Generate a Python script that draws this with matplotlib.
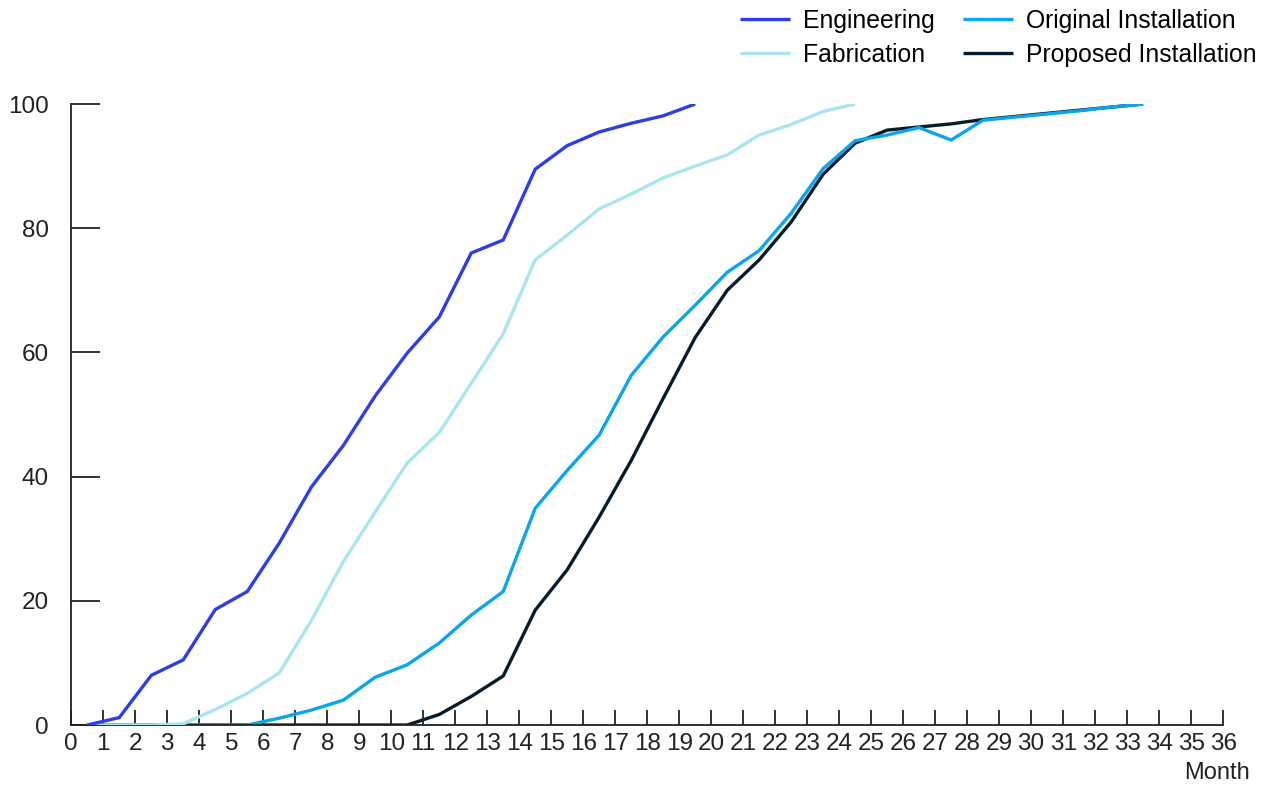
import matplotlib
matplotlib.use('Agg')
import matplotlib.pyplot as plt
import numpy as np

# month mid-points (data sits between the integer ticks)
MONTHS = [m + 0.5 for m in range(34)]

engineering = [0, 1.2, 8.0, 10.5, 18.6, 21.5, 29.3, 38.3, 45.0, 53.0, 59.9, 65.7,
               76.0, 78.1, 89.5, 93.3, 95.5, 96.9, 98.1, 100]
fabrication = [0, 0, 0, 0.2, 2.5, 5.1, 8.4, 16.8, 26.3, 34.3, 42.2, 47.1,
               55.0, 63.0, 74.9, 78.9, 83.1, 85.5, 88.1, 90.0, 91.8, 95.0,
               96.7, 98.8, 100]
original_install = [0, 0, 0, 0, 0, 0, 1.1, 2.4, 4.0, 7.7, 9.7, 13.2,
                    17.7, 21.5, 34.9, 41.0, 46.7, 56.3, 62.5, 67.6, 72.9, 76.4,
                    82.4, 89.6, 94.1, 95.0, 96.2, 94.2, 97.4, 97.9, 98.4, 98.9,
                    99.5, 100]
proposed_install = [0, 0, 0, 0, 0, 0, 0, 0, 0, 0, 0, 1.7,
                    4.6, 7.9, 18.5, 25.0, 33.5, 42.6, 52.6, 62.4, 70.0, 74.9,
                    81.0, 88.7, 93.7, 95.8, 96.3, 96.8, 97.5, 98.0, 98.5, 99.0,
                    99.5, 100]

SERIES = [
    ('Engineering', engineering, '#2b3fe4', 4),
    ('Fabrication', fabrication, '#a8e5ef', 3),
    ('Original Installation', original_install, '#0aa5ee', 2),
    ('Proposed Installation', proposed_install, '#061c2c', 1),
]

X_TICKS = list(range(37))
Y_TICKS = [0, 20, 40, 60, 80, 100]

plt.rcParams['font.family'] = ['Liberation Sans', 'DejaVu Sans']

fig = plt.figure(figsize=(12.71, 7.85), dpi=100)
ax = fig.add_axes([0.0561, 0.0764, 0.9062, 0.7911])

for name, vals, color, z in SERIES:
    ax.plot(MONTHS[:len(vals)], vals, color=color, linewidth=2.4,
            label=name, zorder=z, solid_capstyle='butt')

ax.set_xlim(0, 36)
ax.set_ylim(0, 100)
ax.set_xticks(X_TICKS)
ax.set_yticks(Y_TICKS)

for side in ('top', 'right'):
    ax.spines[side].set_visible(False)
for side in ('left', 'bottom'):
    ax.spines[side].set_linewidth(1.3)
    ax.spines[side].set_color('#222222')

ax.tick_params(axis='x', direction='in', length=11, width=1.3, color='#222222',
               labelsize=17.5, pad=6, labelcolor='#222222')
ax.tick_params(axis='y', direction='in', length=21, width=1.3, color='#222222',
               labelsize=17.5, pad=16, labelcolor='#222222')

fig.legend(loc='upper right', bbox_to_anchor=(0.989, 0.989), ncol=2,
           frameon=False, fontsize=17.8, handlelength=2.0, handletextpad=0.55,
           columnspacing=1.15, labelspacing=0.42, borderpad=0, borderaxespad=0)

fig.text(0.983, 0.008, 'Month', ha='right', va='baseline', fontsize=17,
         color='#222222')

fig.savefig('out.png', dpi=100)
